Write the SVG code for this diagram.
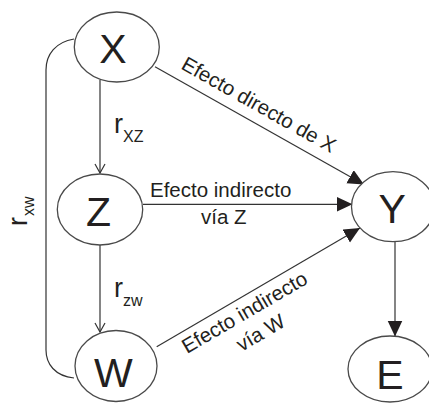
<svg xmlns="http://www.w3.org/2000/svg" width="429" height="403" viewBox="0 0 429 403">
<defs>
<style>
.node ellipse{fill:#fff;stroke:#4a4a4a;stroke-width:1.3}
.lbl{font-family:"Liberation Sans",Arial,sans-serif;fill:#231f20}
.big{font-size:41px;text-anchor:middle}
.mid{font-size:20.5px}
.r{font-size:27px}
.sub{font-size:16px}
.edge{fill:none;stroke:#333;stroke-width:1.2}
</style>
<marker id="fa" markerUnits="userSpaceOnUse" markerWidth="18" markerHeight="16" refX="16" refY="7.5" orient="auto" viewBox="0 0 18 16">
<path d="M0,0 L16,7.5 L0,15 z" fill="#231f20"/>
</marker>
<marker id="oa" markerUnits="userSpaceOnUse" markerWidth="12" markerHeight="14" refX="10" refY="6" orient="auto" viewBox="0 0 12 14">
<path d="M1,1 L10,6 L1,11" fill="none" stroke="#333" stroke-width="1.2"/>
</marker>
</defs>
<rect width="429" height="403" fill="#fff"/>
<g id="connectors">
<path class="edge" d="M74,39 C56,42 46,54 46,70 L46,350 C46,364 55,376 74,378"/>
<line class="edge" x1="100" y1="80" x2="100" y2="173" marker-end="url(#oa)"/>
<line class="edge" x1="100" y1="245" x2="100" y2="332" marker-end="url(#oa)"/>
<line class="edge" x1="155" y1="66.7" x2="364" y2="184.5" marker-end="url(#fa)"/>
<line class="edge" x1="143" y1="204.3" x2="352.5" y2="204.3" marker-end="url(#fa)"/>
<line class="edge" x1="156.7" y1="346.7" x2="360" y2="228" marker-end="url(#fa)"/>
<line class="edge" x1="395" y1="241.7" x2="395" y2="336.5" marker-end="url(#fa)"/>
<text class="lbl mid" transform="translate(180,68.3) rotate(29.4)">Efecto directo de X</text>
<text class="lbl mid" x="150" y="197">Efecto indirecto</text>
<text class="lbl mid" x="201" y="224">vía Z</text>
<text class="lbl mid" transform="translate(187,354) rotate(-30.3)">Efecto indirecto</text>
<text class="lbl mid" transform="translate(241.5,352) rotate(-30.3)">vía W</text>
<text class="lbl r" x="114" y="133.3">r</text>
<text class="lbl sub" x="123" y="142">XZ</text>
<text class="lbl r" x="114" y="296.7">r</text>
<text class="lbl sub" x="123" y="305.5">zw</text>
<text class="lbl r" transform="translate(26.7,226) rotate(-90)">r</text>
<text class="lbl sub" transform="translate(33.5,216) rotate(-90)">xw</text>
</g>
<g id="node-X" class="node"><ellipse cx="116.8" cy="47" rx="42.5" ry="35"/><text class="lbl big" x="113" y="62.7">X</text></g>
<g id="node-Z" class="node"><ellipse cx="100" cy="209.5" rx="42.7" ry="35.5"/><text class="lbl big" x="98.5" y="225.7">Z</text></g>
<g id="node-W" class="node"><ellipse cx="116" cy="366" rx="41" ry="35.5"/><text class="lbl big" x="113.3" y="386.7">W</text></g>
<g id="node-Y" class="node"><ellipse cx="393" cy="206.7" rx="41.5" ry="35"/><text class="lbl big" x="392.3" y="223">Y</text></g>
<g id="node-E" class="node"><ellipse cx="390" cy="369" rx="42" ry="33"/><text class="lbl big" x="390" y="389">E</text></g>
</svg>
